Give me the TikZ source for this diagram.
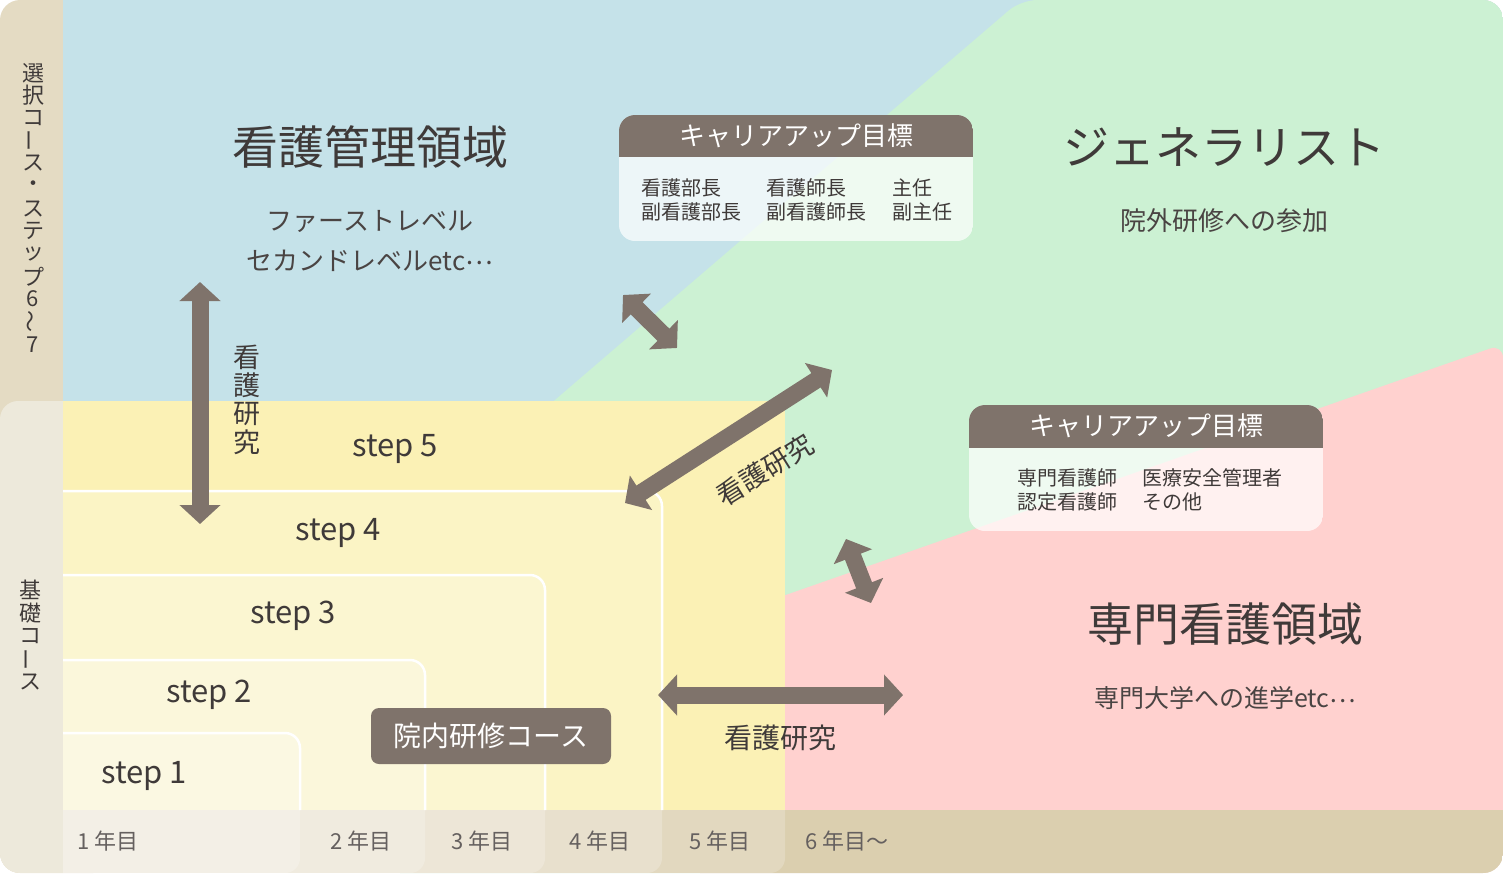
\documentclass[tikz,border=0pt]{standalone}
\usepackage{fontspec}
\usepackage{graphicx}
\usetikzlibrary{arrows.meta}
\newfontfamily\jp{Noto Sans CJK JP}
\newcommand\fsz[2]{\fontsize{#1pt}{#2pt}\selectfont}
\newcommand\vbar{\rotatebox[origin=c]{90}{ー}}
\newcommand\vwave{\rotatebox[origin=c]{90}{〜}}
\newcommand\midell{\raisebox{.22em}{…}}
\definecolor{cblue}{HTML}{C5E2E9}
\definecolor{cgreen}{HTML}{CCF1D3}
\definecolor{cpink}{HTML}{FFD1CF}
\definecolor{cyellow}{HTML}{FBF1B5}
\definecolor{ctanA}{HTML}{E4DBC3}
\definecolor{ctanB}{HTML}{DBCFAF}
\definecolor{clight}{HTML}{EDE9DB}
\definecolor{cdark}{HTML}{7F736B}
\definecolor{ctext}{HTML}{3F3A39}
\definecolor{csub}{HTML}{4A4443}
\begin{document}
\begin{tikzpicture}[x=1pt,y=-1pt,
  lbl/.style={inner sep=0pt,outer sep=0pt,font=\jp,text=ctext},
  bigtitle/.style={lbl,font=\jp\fsz{46}{52}},
  subtitle/.style={lbl,text=csub,font=\jp\fsz{26}{40},align=center},
  hdrtext/.style={lbl,text=white,font=\jp\fsz{26}{30}},
  itemtext/.style={lbl,font=\jp\fsz{20}{24},align=left,anchor=west},
  steplabel/.style={lbl,font=\jp\fsz{31}{36}},
  yearlabel/.style={lbl,text=csub!85!white,font=\jp\fsz{22}{26},anchor=west},
  vchar/.style={lbl,font=\jp\fsz{#1}{#1}},
  fatarrow/.style={draw=cdark,line width=17pt,>={Triangle[length=19pt,width=40pt]},<->},
  stepover/.style={white,fill opacity=.22,rounded corners=15pt},
  stepline/.style={draw=white,line width=2.5pt,rounded corners=15pt},
  darkbox/.style={fill=cdark,rounded corners=8pt}
]
\useasboundingbox (0,0) rectangle (1503,873);
\begin{scope}
\clip[rounded corners=20pt] (0,0) rectangle (1503,873);
% backgrounds
\fill[ctanA] (0,0) rectangle (1503,873);
\fill[cblue] (63,0) rectangle (1503,810);
\fill[cgreen,rounded corners=16pt] (400,533) -- (1021,0) -- (1600,0) -- (1600,900) -- (400,900) -- cycle;
\fill[cpink,rounded corners=14pt] (700,625) -- (1503,344) -- (1503,900) -- (700,900) -- cycle;
\fill[clight,rounded corners=18pt] (0,401) rectangle (93,900);
\fill[cyellow] (63,401) rectangle (785,810);
\fill[ctanB] (63,810) rectangle (1503,873);
% step 5 band overlay
\begin{scope}
\clip (63,810) rectangle (800,873);
\fill[stepover,fill opacity=.2] (40,700) rectangle (785,873);
\end{scope}
% step overlays
\begin{scope}
\clip (63,0) rectangle (1503,873);
\fill[stepover] (40,491) rectangle (662,873);
\fill[stepover] (40,575) rectangle (545,873);
\fill[stepover] (40,660) rectangle (425,873);
\fill[stepover] (40,733) rectangle (300,873);
\end{scope}
\draw[stepline] (63,491) -- (662,491) -- (662,810);
\draw[stepline] (63,575) -- (545,575) -- (545,810);
\draw[stepline] (63,660) -- (425,660) -- (425,810);
\draw[stepline] (63,733) -- (300,733) -- (300,810);
% career boxes
\begin{scope}
\clip[rounded corners=16pt] (619,115) rectangle (973,241);
\fill[white,fill opacity=.7] (619,115) rectangle (973,241);
\fill[cdark] (619,115) rectangle (973,157);
\end{scope}
\begin{scope}
\clip[rounded corners=16pt] (969,405) rectangle (1323,531);
\fill[white,fill opacity=.7] (969,405) rectangle (1323,531);
\fill[cdark] (969,405) rectangle (1323,448);
\end{scope}
\end{scope}

% titles
\node[bigtitle] (kanri) at (370,147) {看護管理領域};
\node[subtitle] (kanrisub) at (370,241) {ファーストレベル\\セカンドレベルetc\midell};
\node[bigtitle] (gene) at (1224,147) {ジェネラリスト};
\node[subtitle] (genesub) at (1224,221) {院外研修への参加};
\node[bigtitle] (senmon) at (1225,624) {専門看護領域};
\node[subtitle,font=\jp\fsz{25}{30}] (senmonsub) at (1225,698) {専門大学への進学etc\midell};

% career box texts
\node[hdrtext] (cb1h) at (796,136) {キャリアアップ目標};
\node[itemtext] (cb1a) at (641,200) {看護部長\\副看護部長};
\node[itemtext] (cb1b) at (766,200) {看護師長\\副看護師長};
\node[itemtext] (cb1c) at (892,200) {主任\\副主任};
\node[hdrtext] (cb2h) at (1146,426) {キャリアアップ目標};
\node[itemtext] (cb2a) at (1017,490) {専門看護師\\認定看護師};
\node[itemtext] (cb2b) at (1142,490) {医療安全管理者\\その他};

% steps
\node[steplabel] (s5) at (395,449) {step 5};
\node[steplabel] (s4) at (338,533) {step 4};
\node[steplabel] (s3) at (293,616) {step 3};
\node[steplabel] (s2) at (209,695) {step 2};
\node[steplabel] (s1) at (144,776) {step 1};

% course box
\fill[darkbox] (371,708) rectangle (611,764);
\node[lbl,text=white,font=\jp\fsz{28}{32}] (innai) at (491,736) {院内研修コース};

% years
\node[yearlabel] (y1) at (77,841) {1\hspace{5pt}年目};
\node[yearlabel] (y2) at (330,841) {2\hspace{5pt}年目};
\node[yearlabel] (y3) at (451,841) {3\hspace{5pt}年目};
\node[yearlabel] (y4) at (569,841) {4\hspace{5pt}年目};
\node[yearlabel] (y5) at (689,841) {5\hspace{5pt}年目};
\node[yearlabel] (y6) at (805,841) {6\hspace{5pt}年目〜};

% left column vertical texts
\foreach \c [count=\i] in {選,択,コ,\vbar,ス,・,ス,テ,ッ,プ,6,\vwave,7}
  \node[vchar=22] (sel\i) at (33,{73+(\i-1)*22.6}) {\c};
\foreach \c [count=\i] in {基,礎,コ,\vbar,ス}
  \node[vchar=22] (kiso\i) at (30,{590+(\i-1)*23}) {\c};

% arrows
\coordinate (a1s) at (200,282); \coordinate (a1e) at (200,524);
\coordinate (a2s) at (623,295); \coordinate (a2e) at (677,348);
\coordinate (a3s) at (625,503); \coordinate (a3e) at (832,370);
\coordinate (a4s) at (846,539); \coordinate (a4e) at (871,603);
\coordinate (a5s) at (658,695); \coordinate (a5e) at (903,695);
\draw[fatarrow] (a1s) -- (a1e);
\draw[fatarrow] (a2s) -- (a2e);
\draw[fatarrow] (a3s) -- (a3e);
\draw[fatarrow] (a4s) -- (a4e);
\draw[fatarrow] (a5s) -- (a5e);

\foreach \c [count=\i] in {看,護,研,究}
  \node[vchar=27] (kk1\i) at (247,{357+(\i-1)*28.5}) {\c};
\node[lbl,font=\jp\fsz{27}{30},rotate=32] (kk2) at (765,470) {看護研究};
\node[lbl,font=\jp\fsz{28}{32}] (kk3) at (780,738) {看護研究};
\end{tikzpicture}
\end{document}
